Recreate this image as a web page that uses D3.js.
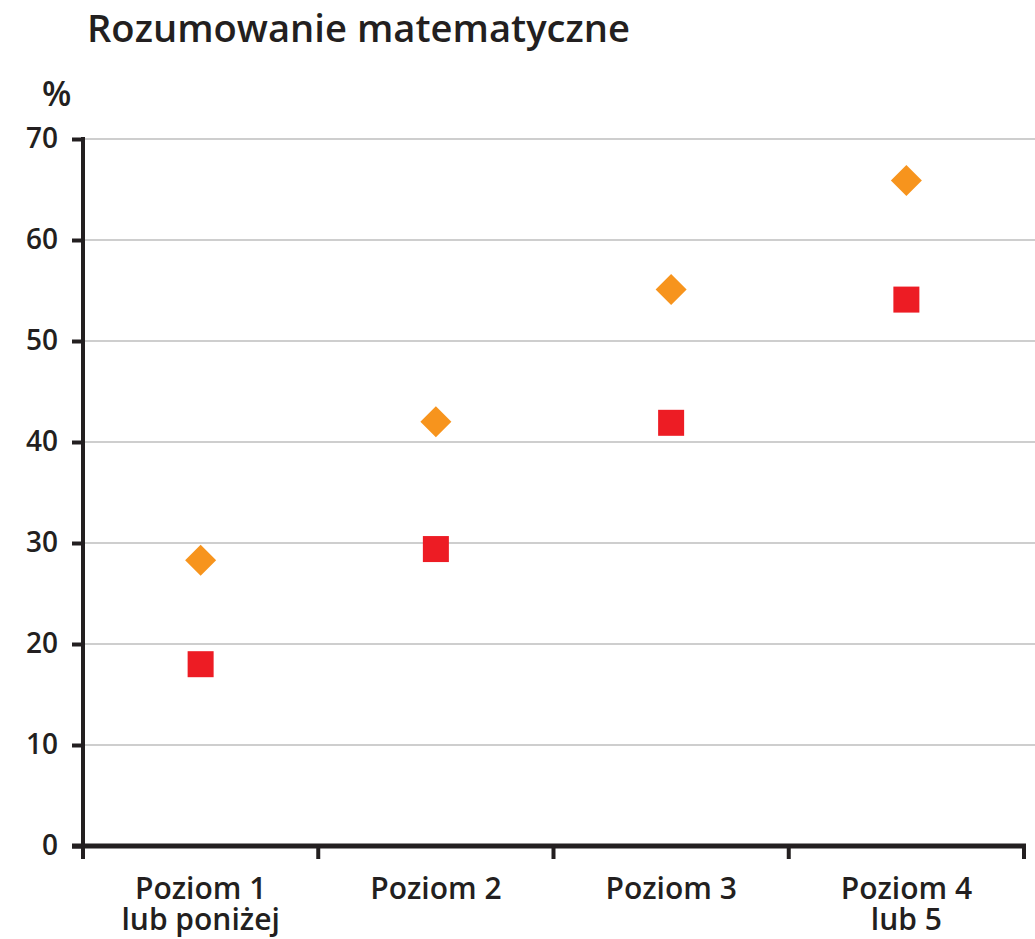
<!DOCTYPE html>
<html>
<head>
<meta charset="utf-8">
<script src="https://cdn.jsdelivr.net/npm/d3@7"></script>
<style>
  body { margin: 0; background: #fff; }
  text { font-family: "Open Sans", sans-serif; fill: #231f20; }
</style>
</head>
<body>
<div id="chart"></div>
<script>
const width = 1035;
const height = 939;

const categories = [["Poziom 1", "lub poniżej"], ["Poziom 2"], ["Poziom 3"], ["Poziom 4", "lub 5"]];
const orangeValues = [28.3, 42.0, 55.1, 65.9];
const redValues = [18.0, 29.4, 41.9, 54.1];
const yTicks = [0, 10, 20, 30, 40, 50, 60, 70];

const plotLeft = 83, plotRight = 1024, plotTop = 139, plotBottom = 846;

const svg = d3.select("#chart")
  .append("svg")
  .attr("width", width)
  .attr("height", height);

const x = d3.scaleBand()
  .domain(d3.range(categories.length))
  .range([plotLeft, plotRight]);

const y = d3.scaleLinear()
  .domain([0, 70])
  .range([plotBottom, plotTop]);

// title
svg.append("text")
  .attr("x", 87)
  .attr("y", 42)
  .attr("font-size", 38)
  .attr("font-weight", 600)
  .attr("textLength", 543)
  .attr("lengthAdjust", "spacingAndGlyphs")
  .text("Rozumowanie matematyczne");

svg.append("text")
  .attr("x", 42)
  .attr("y", 106)
  .attr("font-size", 34)
  .attr("font-weight", 600)
  .text("%");

// gridlines
svg.append("g")
  .selectAll("line")
  .data(yTicks.filter(d => d > 0))
  .join("line")
  .attr("x1", plotLeft)
  .attr("x2", width)
  .attr("y1", d => y(d))
  .attr("y2", d => y(d))
  .attr("stroke", "#9d9d9d")
  .attr("stroke-width", 1.2);

// y axis
const yAxis = svg.append("g")
  .attr("transform", `translate(${plotLeft},0)`)
  .call(d3.axisLeft(y).tickValues(yTicks).tickSize(11).tickPadding(14));
yAxis.select(".domain").attr("stroke", "#231f20").attr("stroke-width", 4).attr("d", `M0,${plotTop - 2}V${plotBottom}`);
yAxis.selectAll(".tick line").attr("stroke", "#231f20").attr("stroke-width", 4);
yAxis.selectAll(".tick text")
  .attr("font-size", 28)
  .attr("font-weight", 600)
  .attr("font-family", "Open Sans")
  .attr("fill", "#231f20");

// x axis
const xAxisG = svg.append("g");
xAxisG.append("line")
  .attr("x1", plotLeft - 11)
  .attr("x2", plotRight + 2)
  .attr("y1", plotBottom)
  .attr("y2", plotBottom)
  .attr("stroke", "#231f20")
  .attr("stroke-width", 5);
const boundaries = d3.range(categories.length + 1).map(i => i < categories.length ? x(i) : x(i - 1) + x.bandwidth());
xAxisG.selectAll(".xt")
  .data(boundaries)
  .join("line")
  .attr("class", "xt")
  .attr("x1", d => d)
  .attr("x2", d => d)
  .attr("y1", plotBottom)
  .attr("y2", plotBottom + 13)
  .attr("stroke", "#231f20")
  .attr("stroke-width", 4);

// category labels, one text per line
categories.forEach((lines, i) => {
  lines.forEach((line, j) => {
    xAxisG.append("text")
      .attr("class", "xl")
      .attr("x", x(i) + x.bandwidth() / 2)
      .attr("y", 899 + j * 31)
      .attr("text-anchor", "middle")
      .attr("font-size", 30)
      .attr("font-weight", 600)
      .text(line);
  });
});

// markers
const cx = i => x(i) + x.bandwidth() / 2;

svg.append("g")
  .selectAll("rect")
  .data(redValues)
  .join("rect")
  .attr("x", (d, i) => cx(i) - 13)
  .attr("y", d => y(d) - 13)
  .attr("width", 26)
  .attr("height", 26)
  .attr("fill", "#ed1c24");

svg.append("g")
  .selectAll("path")
  .data(orangeValues)
  .join("path")
  .attr("d", d3.symbol().type(d3.symbolDiamond2).size(35 * 35 / 2))
  .attr("transform", (d, i) => `translate(${cx(i)},${y(d)})`)
  .attr("fill", "#f7941d");
</script>
</body>
</html>
